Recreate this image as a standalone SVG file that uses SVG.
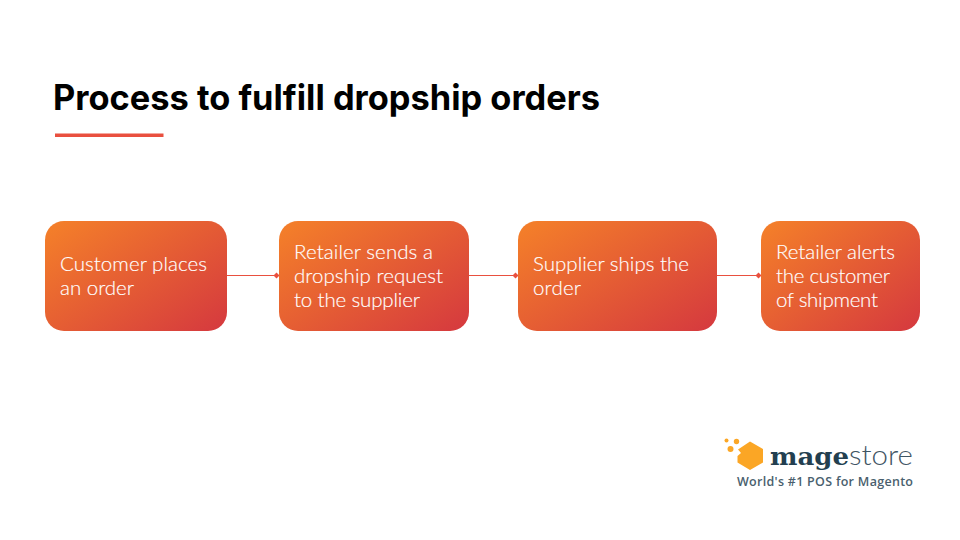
<svg xmlns="http://www.w3.org/2000/svg" width="960" height="540" viewBox="0 0 960 540">
<style>
.t{font-family:"Lato","Liberation Sans",sans-serif;font-size:20.500px;fill:#fff;font-weight:300;stroke:#fff;stroke-width:0.150px}
.c{stroke:#e9503f;stroke-width:1;fill:none}
.d{fill:#e9503f}
</style>
<defs>
<linearGradient id="g1" gradientUnits="objectBoundingBox" x1="0.02" y1="0.1" x2="0.98" y2="0.95"><stop offset="0" stop-color="#f37d2a"/><stop offset="1" stop-color="#d63b3e"/></linearGradient>
</defs>
<rect width="960" height="540" fill="#fff"/>
<text id="title" x="53" y="110" font-family="Inter,'Liberation Sans',sans-serif" font-weight="700" font-size="35" fill="#000" textLength="547" lengthAdjust="spacingAndGlyphs">Process to fulfill dropship orders</text>
<rect x="55" y="133.500" width="108.500" height="3.500" fill="#e9503f"/>
<g id="connectors">
<path class="c" d="M227 275.500H277"/><path class="d" d="M276.500 272.500l3 3-3 3-3-3z"/>
<path class="c" d="M469 275.500H516"/><path class="d" d="M515.500 272.500l3 3-3 3-3-3z"/>
<path class="c" d="M717 275.500H758"/><path class="d" d="M758.500 272.500l3 3-3 3-3-3z"/>
</g>
<g id="node1"><rect x="45" y="221" width="182" height="110" rx="19" fill="url(#g1)"/><text class="t" x="60" y="271" textLength="147">Customer places</text><text class="t" x="60" y="295" textLength="74">an order</text></g>
<g id="node2"><rect x="279" y="221" width="190" height="110" rx="19" fill="url(#g1)"/><text class="t" x="294" y="259" textLength="139">Retailer sends a</text><text class="t" x="294" y="283" textLength="149">dropship request</text><text class="t" x="294" y="307" textLength="126">to the supplier</text></g>
<g id="node3"><rect x="518" y="221" width="199" height="110" rx="19" fill="url(#g1)"/><text class="t" x="533" y="271" textLength="156">Supplier ships the</text><text class="t" x="533" y="295" textLength="48">order</text></g>
<g id="node4"><rect x="761" y="221" width="159" height="110" rx="19" fill="url(#g1)"/><text class="t" x="776" y="259" textLength="119">Retailer alerts</text><text class="t" x="776" y="283" textLength="114">the customer</text><text class="t" x="776" y="307" textLength="102">of shipment</text></g>
<g id="logo">
<path d="M750 441.500L763 449V462.500L750 470L737.500 462.500V456L741 453L738 449.500Z" fill="#fba625"/>
<circle cx="726.500" cy="440.500" r="2" fill="#fba625"/><circle cx="736.500" cy="441.500" r="2.700" fill="#fba625"/><circle cx="730.500" cy="449" r="3" fill="#fba625"/>
<text x="770" y="465" font-family="'DejaVu Serif',serif" font-weight="700" font-size="25" fill="#233f50" textLength="79" lengthAdjust="spacingAndGlyphs">mage</text>
<text x="849" y="465" font-family="Lato,sans-serif" font-weight="300" font-size="28" fill="#3f5564" textLength="64" lengthAdjust="spacingAndGlyphs">store</text>
<text x="737" y="486" font-family="'Open Sans',sans-serif" font-weight="600" font-size="12.500" fill="#4a5f6e" textLength="176" lengthAdjust="spacing">World's #1 POS for Magento</text>
</g>
</svg>
